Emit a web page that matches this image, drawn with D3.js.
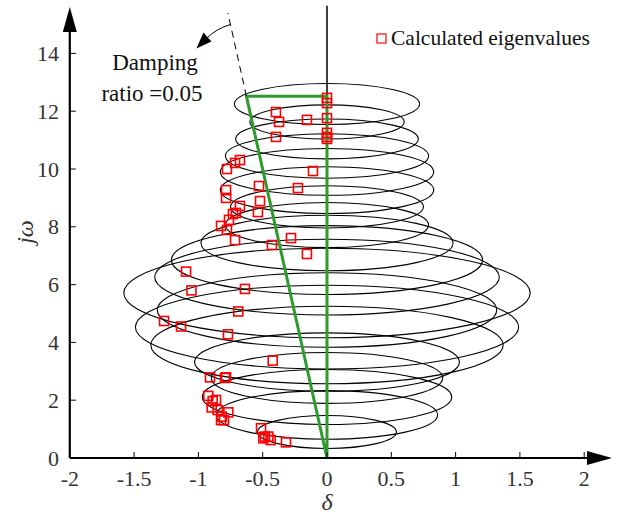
<!DOCTYPE html>
<html><head><meta charset="utf-8">
<script src="https://cdn.jsdelivr.net/npm/d3@7"></script>
<style>body{margin:0;background:#fff}svg{display:block;font-family:"Liberation Serif",serif}</style>
</head><body><svg id="c" width="623" height="515" font-family="Liberation Serif, serif"></svg>
<script>
// ---- data ----
const xTicks = [-2, -1.5, -1, -0.5, 0, 0.5, 1, 1.5, 2];
const xTickLabels = ["-2", "-1.5", "-1", "-0.5", "0", "0.5", "1", "1.5", "2"];
const yTicks = [0, 2, 4, 6, 8, 10, 12, 14];
const yTickLabels = ["0", "2", "4", "6", "8", "10", "12", "14"];
// ellipse centres (jω), half widths (δ) and half heights (jω)
const ellipseCenter = [12.25, 11.63, 11.04, 10.45, 9.90, 9.27, 8.69, 8.06, 7.44, 6.85, 6.26, 5.71, 5.12, 4.53, 3.91, 3.32, 2.77, 2.11, 1.49, 0.90];
const ellipseRx     = [0.72, 0.60, 0.71, 0.79, 0.83, 0.83, 0.75, 0.79, 0.98, 1.21, 1.34, 1.58, 1.32, 1.49, 1.37, 1.03, 0.90, 0.97, 0.86, 0.54];
const ellipseRy     = [0.71, 0.59, 0.69, 0.77, 0.81, 0.81, 0.73, 0.78, 0.96, 1.19, 1.31, 1.55, 1.29, 1.45, 1.34, 1.01, 0.88, 0.95, 0.84, 0.57];
// calculated eigenvalues
const eigReal = [0, 0, -0.397, -0.373, -0.156, 0, -0.397, 0, 0, 0,
  -0.677, -0.715, -0.778, -0.109, -0.785, -0.785, -0.529, -0.226, -0.521, -0.677,
  -0.708, -0.537, -0.731, -0.762, -0.824, -0.778, -0.715, -0.428, -0.280, -0.156,
  -1.096, -1.054, -0.638, -0.690, -1.267, -1.135, -0.770, -0.422, -0.910, -0.785,
  -0.793, -0.923, -0.889, -0.863, -0.897, -0.850, -0.767, -0.819, -0.801, -0.824,
  -0.513, -0.482, -0.456, -0.495, -0.438, -0.319];
const eigImag = [12.46, 12.28, 11.97, 11.63, 11.70, 11.76, 11.11, 11.25, 11.11, 11.04,
  10.31, 10.21, 10.00, 9.93, 9.27, 9.00, 9.41, 9.34, 8.89, 8.72,
  8.48, 8.51, 8.44, 8.24, 8.03, 7.89, 7.54, 7.37, 7.61, 7.06,
  6.45, 5.80, 5.85, 5.07, 4.74, 4.55, 4.28, 3.37, 2.79, 2.79,
  2.77, 2.15, 1.97, 2.01, 1.75, 1.66, 1.58, 1.43, 1.31, 1.31,
  1.03, 0.74, 0.74, 0.68, 0.62, 0.54];
const dampingRatio = 0.05;
const dampingTopW = 12.52;   // top of the damping boundary
const dampingDashW = 15.4;   // dashed extension end
const legendLabel = "Calculated eigenvalues";

// ---- drawing ----
const FONT = "Liberation Serif";
const svg = d3.select("#c");
const x = d3.scaleLinear().domain([-2, 2]).range([69.8, 584.2]);
const y = d3.scaleLinear().domain([0, 14]).range([458, 53.4]);
const slope = -dampingRatio / Math.sqrt(1 - dampingRatio * dampingRatio);

svg.append("rect").attr("width", 623).attr("height", 515).attr("fill", "#fff");

// ellipses
const ell = ellipseCenter.map((c, i) => ({c, rx: ellipseRx[i], ry: ellipseRy[i]}));
svg.append("g").selectAll("ellipse").data(ell).join("ellipse")
  .attr("cx", x(0)).attr("cy", d => y(d.c))
  .attr("rx", d => x(d.rx) - x(0)).attr("ry", d => y(0) - y(d.ry))
  .attr("fill", "none").attr("stroke", "#000").attr("stroke-width", 1.1);

// imaginary axis
svg.append("line").attr("x1", x(0)).attr("x2", x(0)).attr("y1", y(0)).attr("y2", y(15.65))
  .attr("stroke", "#000").attr("stroke-width", 1.5);

// damping boundary (green)
const topD = slope * dampingTopW;
svg.append("path")
  .attr("d", d3.line()([[x(0), y(0)], [x(topD), y(dampingTopW)], [x(0), y(dampingTopW)], [x(0), y(0)]]))
  .attr("fill", "none").attr("stroke", "#2f9a2f").attr("stroke-width", 3).attr("stroke-linejoin", "miter");
// dashed extension
svg.append("line").attr("x1", x(topD)).attr("y1", y(dampingTopW))
  .attr("x2", x(slope * dampingDashW)).attr("y2", y(dampingDashW))
  .attr("stroke", "#000").attr("stroke-width", 1).attr("stroke-dasharray", "7,5");

// eigenvalues
const pts = eigReal.map((r, i) => ({r, w: eigImag[i]}));
svg.append("g").selectAll("rect").data(pts).join("rect")
  .attr("x", d => x(d.r) - 4.5).attr("y", d => y(d.w) - 4.5)
  .attr("width", 9).attr("height", 9)
  .attr("fill", "none").attr("stroke", "#ff0000").attr("stroke-width", 1.6);

// axes
const ax = svg.append("g");
ax.append("line").attr("x1", x(-2)).attr("x2", 595).attr("y1", y(0)).attr("y2", y(0)).attr("stroke", "#000").attr("stroke-width", 2.2);
ax.append("path").attr("d", `M612,${y(0)}L587,${y(0) - 7}L587,${y(0) + 7}Z`).attr("fill", "#000");
ax.append("line").attr("x1", x(-2)).attr("x2", x(-2)).attr("y1", y(0)).attr("y2", 25).attr("stroke", "#000").attr("stroke-width", 2.2);
ax.append("path").attr("d", `M${x(-2)},7L${x(-2) - 7},32L${x(-2) + 7},32Z`).attr("fill", "#000");

ax.selectAll(".xt").data(xTicks).join("line").attr("class", "xt")
  .attr("x1", d => x(d)).attr("x2", d => x(d)).attr("y1", y(0)).attr("y2", y(0) - 6)
  .attr("stroke", "#000").attr("stroke-width", 1);
ax.selectAll(".xl").data(xTicks).join("text").attr("class", "xl")
  .attr("x", d => x(d)).attr("y", 486).attr("text-anchor", "middle")
  .attr("font-family", FONT).attr("font-size", 22).attr("fill", "#333").text((d, i) => xTickLabels[i]);
ax.selectAll(".yt").data(yTicks).join("line").attr("class", "yt")
  .attr("x1", x(-2)).attr("x2", x(-2) + 6).attr("y1", d => y(d)).attr("y2", d => y(d))
  .attr("stroke", "#000").attr("stroke-width", 1);
ax.selectAll(".yl").data(yTicks).join("text").attr("class", "yl")
  .attr("x", 59).attr("y", d => y(d) + 7.5).attr("text-anchor", "end")
  .attr("font-family", FONT).attr("font-size", 22).attr("fill", "#333").text((d, i) => yTickLabels[i]);

// axis titles
svg.append("text").attr("x", x(0)).attr("y", 510).attr("text-anchor", "middle")
  .attr("font-family", FONT).attr("font-size", 24).attr("font-style", "italic").attr("fill", "#333").text("δ");
svg.append("text").attr("transform", "translate(33,232) rotate(-90)").attr("text-anchor", "middle")
  .attr("font-family", FONT).attr("font-size", 24).attr("font-style", "italic").attr("fill", "#333").text("jω");

// annotation
svg.append("text").attr("x", 155).attr("y", 70).attr("text-anchor", "middle")
  .attr("font-family", FONT).attr("font-size", 23).attr("fill", "#111").text("Damping");
svg.append("text").attr("x", 152).attr("y", 101).attr("text-anchor", "middle")
  .attr("font-family", FONT).attr("font-size", 23).attr("fill", "#111").text("ratio =0.05");
const ax0 = x(slope * 15.0), ay0 = y(15.0);
svg.append("path").attr("d", `M${ax0},${ay0}Q${ax0 - 14},${ay0 + 4} ${ax0 - 24},${ay0 + 14}`)
  .attr("fill", "none").attr("stroke", "#000").attr("stroke-width", 1);
svg.append("path").attr("d", `M${ax0 - 34},${ay0 + 24}L${ax0 - 27},${ay0 + 8}L${ax0 - 19},${ay0 + 17}Z`).attr("fill", "#000");

// legend
svg.append("rect").attr("x", 377).attr("y", 34).attr("width", 9).attr("height", 9)
  .attr("fill", "none").attr("stroke", "#ff0000").attr("stroke-width", 1.2);
svg.append("text").attr("x", 391).attr("y", 45).attr("font-family", FONT)
  .attr("font-size", 21.5).attr("fill", "#111").text(legendLabel);
</script></body></html>
